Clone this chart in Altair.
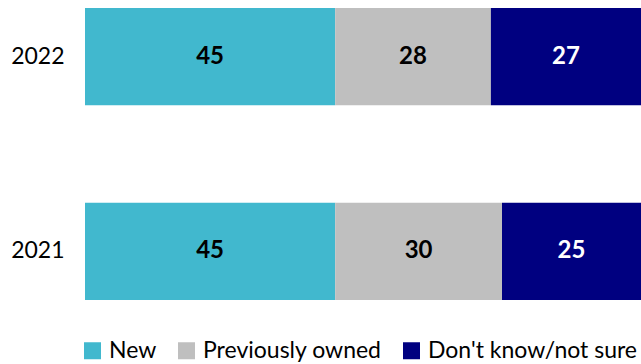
import altair as alt
import pandas as pd

years = ["2022", "2021"]
categories = ["New", "Previously owned", "Don't know/not sure"]
values_2022 = [45, 28, 27]
values_2021 = [45, 30, 25]
colors = ["#41B8CE", "#BFBFBF", "#000080"]

rows = []
for y, vals in zip(years, [values_2022, values_2021]):
    for i, (c, v) in enumerate(zip(categories, vals)):
        rows.append({"year": y, "cat": c, "value": v, "order": i})
df = pd.DataFrame(rows)

FONT = "Lato"

base = alt.Chart(df).encode(
    y=alt.Y("year:N", sort=years, title=None,
            scale=alt.Scale(paddingInner=0.501, paddingOuter=0.041),
            axis=alt.Axis(domain=False, ticks=False, grid=False, labelFont=FONT, labelFontSize=23,
                          labelColor="#000000", labelPadding=21)),
)

bars = base.mark_bar().encode(
    x=alt.X("value:Q", stack="zero", title=None, axis=None,
            scale=alt.Scale(domain=[0, 100], nice=False)),
    color=alt.Color("cat:N", sort=categories,
                    scale=alt.Scale(domain=categories, range=colors),
                    legend=alt.Legend(title=None, orient="none", direction="horizontal",
                                      columns=3, legendX=-4, legendY=339,
                                      symbolType="square", symbolSize=289,
                                      symbolStrokeWidth=0, symbolOpacity=1,
                                      labelFont=FONT, labelFontSize=23, labelLimit=400,
                                      labelColor="#000000", columnPadding=18,
                                      labelOffset=5)),
    order=alt.Order("order:Q"),
)

texts = base.mark_text(font=FONT, fontSize=24, fontWeight="bold").encode(
    x=alt.X("mid:Q", scale=alt.Scale(domain=[0, 100], nice=False), axis=None),
    text=alt.Text("value:Q"),
    color=alt.condition(alt.datum.cat == "Don't know/not sure",
                        alt.value("#FFFFFF"), alt.value("#000000")),
).transform_stack(
    stack="value", groupby=["year"], as_=["v0", "v1"],
    sort=[alt.SortField("order", order="ascending")]
).transform_calculate(mid="(datum.v0 + datum.v1) / 2")

chart = alt.layer(bars, texts).properties(
    width=556, height=308,
    background="#FFFFFF",
    autosize=alt.AutoSizeParams(type="none"),
    padding={"left": 85, "top": 0, "right": 0, "bottom": 56},
).configure_view(stroke="transparent", strokeWidth=0).configure_axis(
    domain=False, grid=False
)

chart.save("out.html", embed_options={"renderer": "svg", "actions": False})
